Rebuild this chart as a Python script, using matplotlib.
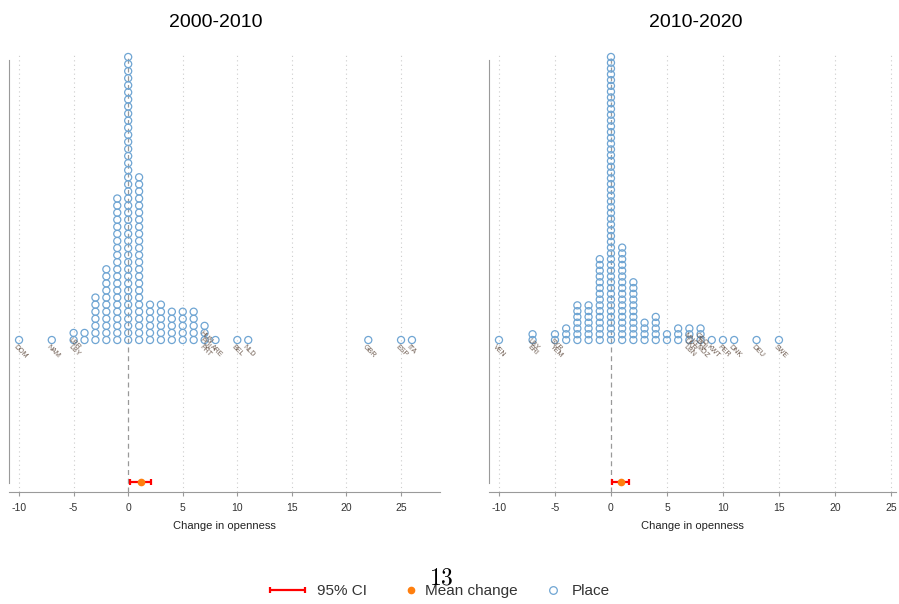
import matplotlib
matplotlib.use('Agg')
import matplotlib.pyplot as plt
from matplotlib.lines import Line2D
from matplotlib.container import ErrorbarContainer
from matplotlib.legend_handler import HandlerErrorbar

plt.rcParams['font.family'] = ['Liberation Sans', 'DejaVu Sans']
plt.rcParams['mathtext.fontset'] = 'cm'
plt.rcParams['axes.unicode_minus'] = False

# ---- data ----
periods = ['2000-2010', '2010-2020']

# change in openness (binned) and number of places in each bin
bins_0010 = [-10, -7, -5, -4, -3, -2, -1, 0, 1, 2, 3, 4, 5, 6, 7, 8, 10, 11, 22, 25, 26]
counts_0010 = [1, 1, 2, 2, 7, 11, 21, 41, 24, 6, 6, 5, 5, 5, 3, 1, 1, 1, 1, 1, 1]
code_vals_0010 = [-10, -7, -5, -5, 7, 7, 7, 8, 10, 11, 22, 25, 26]
codes_0010 = ['DOM', 'NAM', 'LBY', 'LBR', 'PRT', 'POL', 'HUN', 'ARE', 'BEL', 'NLD', 'GBR', 'ESP', 'ITA']
mean_0010 = 1.15
ci_0010 = (0.2, 2.1)

bins_1020 = [-10, -7, -5, -4, -3, -2, -1, 0, 1, 2, 3, 4, 5, 6, 7, 8, 9, 10, 11, 13, 15]
counts_1020 = [1, 2, 2, 3, 7, 7, 15, 50, 17, 11, 4, 5, 2, 3, 3, 3, 1, 1, 1, 1, 1]
code_vals_1020 = [-10, -7, -7, -5, -5, 7, 7, 7, 8, 8, 8, 9, 10, 11, 13, 15]
codes_1020 = ['VEN', 'ERI', 'LBY', 'YEM', 'SYR', 'LBN', 'UKR', 'MNG', 'MOZ', 'BOL', 'GEO',
              'KWT', 'PER', 'DNK', 'DEU', 'SWE']
mean_1020 = 0.87
ci_1020 = (0.12, 1.63)

xticks = [-10, -5, 0, 5, 10, 15, 20, 25]

place_color = '#6fa5d3'
code_color = '#6d5a4e'
axis_color = '#9a9a9a'


def draw_panel(ax, title, bins, counts, code_vals, codes, mean, ci, xlim, title_x):
    step = 1.0 / (max(counts) - 1)
    xs, ys = [], []
    for b, c in zip(bins, counts):
        for k in range(c):
            xs.append(b)
            ys.append(k * step)

    # grid lines
    for g in xticks:
        if g == 0:
            ax.axvline(g, color='#999999', ls=(0, (4, 3)), lw=0.9, zorder=1)
        else:
            ax.axvline(g, color='#cccccc', ls=(0, (1, 3)), lw=0.8, zorder=1)

    ax.scatter(xs, ys, s=26, facecolors='none', edgecolors=place_color,
               linewidths=0.9, clip_on=False, zorder=3)

    # country codes, one per labelled place, stacked like the dots
    used = {}
    for v, code in zip(code_vals, codes):
        k = used.get(v, 0)
        used[v] = k + 1
        ax.annotate(code, (v, k * step), xytext=(-1.5, -2.5), textcoords='offset points',
                    rotation=-45, rotation_mode='anchor', ha='left', va='top',
                    fontsize=5, color=code_color, zorder=4)

    ci_bar = ax.errorbar(mean, -0.5, xerr=[[mean - ci[0]], [ci[1] - mean]], fmt='none',
                         ecolor='red', elinewidth=1.6, capsize=2.5, capthick=1.6, zorder=4,
                         clip_on=False)
    ax.plot(mean, -0.5, 'o', color='#ff7f0e', ms=4.5, zorder=5, clip_on=False)

    ax.set_xlim(*xlim)
    ax.set_ylim(-0.537, 1.007)
    ax.set_xticks(xticks)
    ax.set_yticks([])
    for s in ['top', 'right']:
        ax.spines[s].set_visible(False)
    ax.spines['bottom'].set_color(axis_color)
    ax.spines['left'].set_color(axis_color)
    ax.spines['bottom'].set_linewidth(0.8)
    ax.spines['left'].set_linewidth(0.8)
    ax.spines['left'].set_bounds(-0.505, 0.99)
    ax.tick_params(axis='x', colors=axis_color, labelcolor='#333333', labelsize=7.5,
                   length=3, width=0.8, pad=5)
    ax.set_xlabel('Change in openness', fontsize=8, color='#222222', labelpad=6)
    ax.set_title(title, fontsize=14, x=title_x, pad=20)
    return ci_bar


fig = plt.figure(figsize=(8.99, 6.04), dpi=100)
ax1 = fig.add_axes([9 / 899, 112 / 604, 431 / 899, 437 / 604])
ax2 = fig.add_axes([489 / 899, 112 / 604, 407 / 899, 437 / 604])

ci_handle = draw_panel(ax1, periods[0], bins_0010, counts_0010, code_vals_0010, codes_0010,
                       mean_0010, ci_0010, (-10.92, 28.57), 0.48)
draw_panel(ax2, periods[1], bins_1020, counts_1020, code_vals_1020, codes_1020,
           mean_1020, ci_1020, (-10.89, 25.45), 0.509)

dot_handle = Line2D([], [], marker='o', ls='none', color='#ff7f0e', ms=4.5)
place_handle = Line2D([], [], marker='o', ls='none', mfc='none', mec=place_color,
                      ms=5.5, mew=0.9)

# one legend box per key entry, so each sits where it does in the original
legend_y = 1 - 591 / 604
entries = [(ci_handle, '95% CI', 275.5, 1.15),
           (dot_handle, 'Mean change', 399, 0.13),
           (place_handle, 'Place', 541, 0.46)]
for handle, label, left_px, pad in entries:
    fig.legend([handle], [label], loc='center left', bbox_to_anchor=(left_px / 899, legend_y),
               frameon=False, fontsize=11, handlelength=1.57, handletextpad=pad,
               borderpad=0, borderaxespad=0, labelcolor='#333333',
               handler_map={ErrorbarContainer: HandlerErrorbar(xerr_size=1.15)})

# page number of the source document
fig.text(441 / 899, 1 - 578.5 / 604, r'$\mathrm{13}$', fontsize=17, ha='center', va='center')

fig.savefig('out.png', dpi=100)
